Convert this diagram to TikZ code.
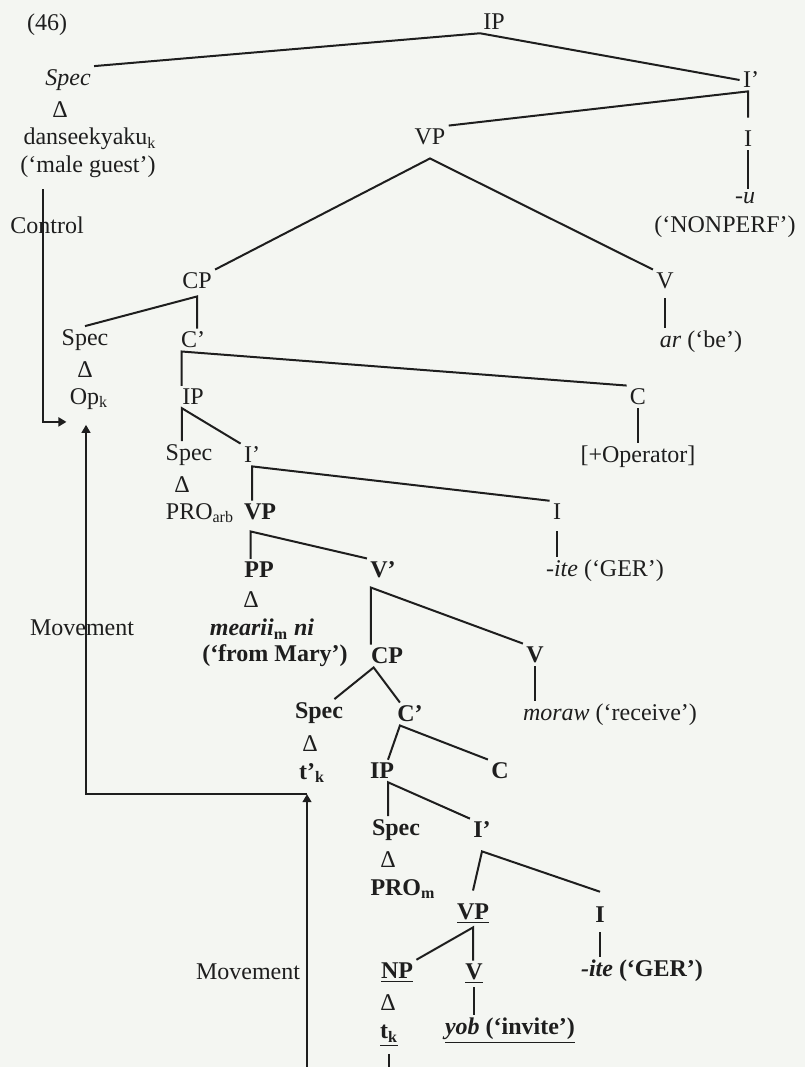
\documentclass[tikz,border=0pt]{standalone}
\usepackage{fontspec}
\setmainfont{Liberation Serif}
\usetikzlibrary{arrows.meta, positioning, calc}
\definecolor{paper}{RGB}{244,246,242}
\definecolor{ink}{RGB}{30,30,30}

\begin{document}
\begin{tikzpicture}[x=0.5pt, y=-0.5pt,
  lbl/.style={inner sep=1.5pt, text=ink, font=\fontsize{12}{14}\selectfont},
  br/.style={draw=ink, line width=1pt},
  mv/.style={draw=ink, line width=0.7pt},
  tip/.style={-{Triangle[length=4pt,width=4.5pt]}}]
  \fill[paper] (0,0) rectangle (805,1067);
  \useasboundingbox (0,0) rectangle (805,1067);
  \node[lbl] (n46) at (47,25) {(46)};
  % upper tree
  \node[lbl] (ip) at (494,22) {IP};
  \node[lbl] (spectop) at (68,80) {\textit{Spec}};
  \node[lbl] (deltop) at (60,110) {Δ};
  \node[lbl] (dans) at (90,139) {danseekyaku\textsubscript{k}};
  \node[lbl] (guest) at (88,167) {(`male guest')};
  \node[lbl] (ibartop) at (751,80) {I'};
  \node[lbl] (itop) at (748,139) {I};
  \node[lbl] (utop) at (745,198) {\textit{-u}};
  \node[lbl] (nonperf) at (725,227) {(`NONPERF')};
  \node[lbl] (vptop) at (430,137) {VP};
  \node[lbl] (cptop) at (197,281) {CP};
  \node[lbl] (vtop) at (665,281) {V};
  \node[lbl] (ar) at (701,342) {\textit{ar} (`be')};
  \node[lbl] (specop) at (85,340) {Spec};
  \node[lbl] (delop) at (85,370) {Δ};
  \node[lbl] (op) at (89,399) {Op\textsubscript{k}};
  \node[lbl] (cbar) at (193,340) {C'};
  \node[lbl] (c) at (638,397) {C};
  \node[lbl] (operator) at (638,457) {[+Operator]};
  \node[lbl] (ipa) at (193,397) {IP};
  \node[lbl] (specarb) at (189,455) {Spec};
  \node[lbl] (delarb) at (182,485) {Δ};
  \node[lbl] (proarb) at (200,513) {PRO\textsubscript{arb}};
  \node[lbl] (ibara) at (252,455) {I'};
  \node[lbl] (ia) at (557,512) {I};
  \node[lbl] (itea) at (605,571) {\textit{-ite} (`GER')};
  % lower tree, bold
  \node[lbl] (vpa) at (260,512) {\textbf{VP}};
  \node[lbl] (pp) at (259,570) {\textbf{PP}};
  \node[lbl] (delpp) at (251,600) {Δ};
  \node[lbl] (mearii) at (262,629) {\textbf{\textit{mearii}\textsubscript{m}~\textit{ni}}};
  \node[lbl] (mary) at (275,656) {\textbf{(`from Mary')}};
  \node[lbl] (vbar) at (383,570) {\textbf{V'}};
  \node[lbl] (cpb) at (387,656) {\textbf{CP}};
  \node[lbl] (vb) at (535,655) {\textbf{V}};
  \node[lbl] (moraw) at (610,715) {\textit{moraw} (`receive')};
  \node[lbl] (specb) at (319,713) {\textbf{Spec}};
  \node[lbl] (delb) at (310,744) {Δ};
  \node[lbl] (tpk) at (312,773) {\textbf{t'\textsubscript{k}}};
  \node[lbl] (cbarb) at (410,714) {\textbf{C'}};
  \node[lbl] (cb) at (500,771) {\textbf{C}};
  \node[lbl] (ipb) at (382,771) {\textbf{IP}};
  \node[lbl] (specm) at (396,830) {\textbf{Spec}};
  \node[lbl] (delm) at (388,860) {Δ};
  \node[lbl] (prom) at (403,889) {\textbf{PRO\textsubscript{m}}};
  \node[lbl] (ibarb) at (482,830) {\textbf{I'}};
  \node[lbl] (vpu) at (473,914) {\underline{\textbf{VP}}};
  \node[lbl] (ib) at (600,915) {\textbf{I}};
  \node[lbl] (iteb) at (642,971) {\textbf{\textit{-ite} (`GER')}};
  \node[lbl] (np) at (397,973) {\underline{\textbf{NP}}};
  \node[lbl] (delnp) at (388,1003) {Δ};
  \node[lbl] (tk) at (389,1036) {\underline{\textbf{t\textsubscript{k}}}};
  \node[lbl] (vu) at (474,974) {\underline{\textbf{V}}};
  \node[lbl] (yob) at (510,1031) {\underline{\textbf{\textit{yob} (`invite')}}};
  % arrow labels
  \node[lbl] (control) at (47,225) {Control};
  \node[lbl] (movup) at (82,628) {Movement};
  \node[lbl] (movlow) at (248,972) {Movement};
  % branches
  \draw[br] (spectop.north east) -- (ip.south west) -- (ibartop.west);
  \coordinate (ibartop-a) at (itop.north |- ibartop.south);
  \draw[br] (vptop.north east) -- (ibartop-a) -- ([yshift=5pt]itop.north);
  \draw[br] (itop.south) -- (itop.south |- utop.north);
  \coordinate (vptop-a) at ([yshift=-5pt]vptop.south);
  \draw[br] (cptop.north east) -- (vptop-a) -- (vtop.north west);
  \draw[br] ([yshift=-3pt]vtop.south) -- (vtop.south |- ar.north);
  \coordinate (cptop-a) at ([yshift=-2pt]cptop.south);
  \draw[br] (specop.north) -- (cptop-a) -- (cptop-a |- cbar.north);
  \coordinate (cbar-a) at ([xshift=2pt]cbar.south west);
  \draw[br] (cbar-a |- ipa.north) -- (cbar-a) -- (c.north west);
  \draw[br] (c.south) -- (operator.north);
  \coordinate (ipa-a) at ([xshift=1.5pt]ipa.south west);
  \draw[br] (ipa-a |- specarb.north) -- (ipa-a) -- (ibara.north west);
  \draw[br] (ibara.south |- vpa.north) -- (ibara.south) -- (ia.north west);
  \draw[br] ([yshift=-4pt]ia.south) -- (ia.south |- itea.north);
  \coordinate (vpa-a) at ([xshift=5pt,yshift=-4pt]vpa.south west);
  \draw[br] (vpa-a |- pp.north) -- (vpa-a) -- (vbar.north west);
  \coordinate (vbar-a) at ([xshift=2pt,yshift=-3pt]vbar.south west);
  \draw[br] (vbar-a |- cpb.north) -- (vbar-a) -- (vb.north west);
  \draw[br] (vb.south) -- (vb.south |- moraw.north);
  \coordinate (cpb-a) at ([xshift=3pt]cpb.south west);
  \draw[br] ([xshift=-6pt]specb.north east) -- (cpb-a) -- ([xshift=3pt]cbarb.north west);
  \coordinate (cbarb-a) at ([xshift=3pt]cbarb.south west);
  \draw[br] ([xshift=3pt]ipb.north) -- (cbarb-a) -- (cb.north west);
  \coordinate (ipb-a) at ([xshift=3pt]ipb.south);
  \draw[br] (ipb-a |- specm.north) -- (ipb-a) -- (ibarb.north west);
  \coordinate (ibarb-a) at ([yshift=-5pt]ibarb.south);
  \draw[br] ([yshift=5pt]vpu.north) -- (ibarb-a) -- ([yshift=6pt]ib.north);
  \draw[br] (np.north east) -- (vpu.south) -- (vpu.south |- vu.north);
  \draw[br] ([yshift=-3pt]ib.south) -- (ib.south |- iteb.north);
  \draw[br] (vu.south) -- (vu.south |- yob.north);
  \coordinate (tkfoot) at (389,1067);
  \draw[mv] ([yshift=-2pt]tk.south) -- (tk.south |- tkfoot);
  % control and movement
  \draw[br, tip] ([xshift=-22.5pt,yshift=-4pt]guest.south) |- ([yshift=-4.5pt]op.south west);
  \coordinate (movfoot) at (307,1067);
  \coordinate (tpkfoot) at ([xshift=-2.5pt,yshift=-4pt]tpk.south);
  \draw[mv, tip] (movfoot) -- (tpkfoot);
  \draw[mv, tip] (tpkfoot) -| ([xshift=-1.5pt,yshift=-6pt]op.south);
\end{tikzpicture}
\end{document}
